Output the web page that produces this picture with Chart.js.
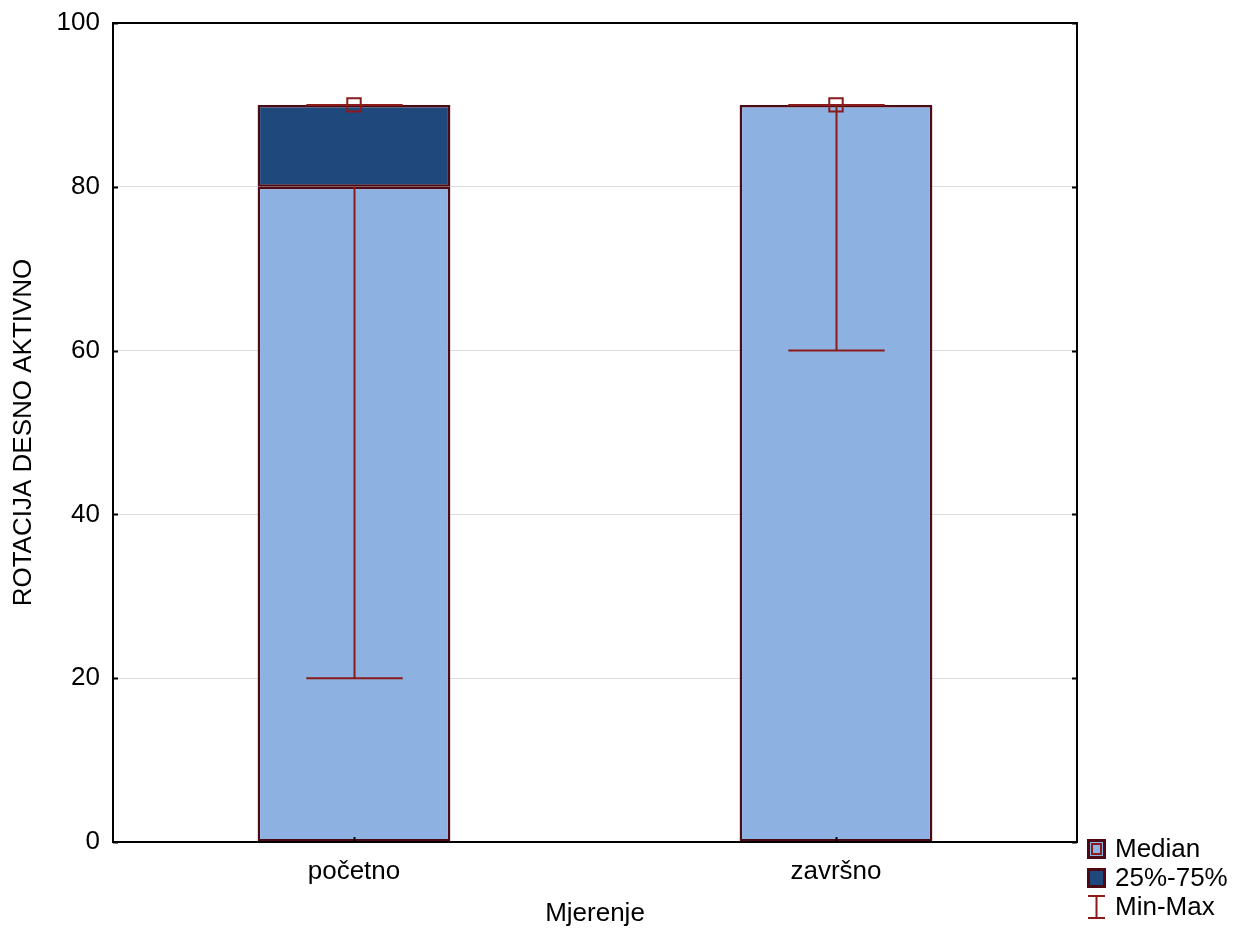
<!DOCTYPE html>
<html>
<head>
<meta charset="utf-8">
<script src="https://cdn.jsdelivr.net/npm/chart.js@4/dist/chart.umd.min.js"></script>
<style>
  html, body { margin: 0; padding: 0; background: #fff; }
  #wrap { width: 1234px; height: 930px; }
</style>
</head>
<body>
<div id="wrap"><canvas id="c" width="1234" height="930"></canvas></div>
<script>
// box plot data
var categories = ['početno', 'završno'];
var medians = [90, 90];
var q1 = [80, 90];
var q3 = [90, 90];
var mins = [20, 60];
var maxs = [90, 90];
var yTicks = [0, 20, 40, 60, 80, 100];
var legendLabels = ['Median', '25%-75%', 'Min-Max'];

var LIGHT = '#8db2e1';
var DARK = '#1f497d';
var EDGE = '#4e0a14';
var WHISK = '#8b1a1a';
var FONT = '"Liberation Sans", Arial, sans-serif';
var FS = 26;

var boxExtras = {
    id: 'boxExtras',
    beforeDatasetsDraw: function (chart) {
        var ctx = chart.ctx, a = chart.chartArea;
        ctx.save();
        ctx.strokeStyle = '#000';
        ctx.lineWidth = 2;
        var ys = chart.scales.y;
        // inner tick marks
        yTicks.forEach(function (v) {
            var py = Math.round(ys.getPixelForValue(v)) + 0.5;
            ctx.beginPath();
            ctx.moveTo(a.left, py); ctx.lineTo(a.left + 5, py);
            ctx.moveTo(a.right, py); ctx.lineTo(a.right - 5, py);
            ctx.stroke();
        });
        ctx.restore();
    },
    afterDatasetsDraw: function (chart) {
        var ctx = chart.ctx, a = chart.chartArea;
        var ys = chart.scales.y, xs = chart.scales.x;
        var barMeta = chart.getDatasetMeta(0);
        ctx.save();
        // whiskers
        ctx.strokeStyle = WHISK;
        ctx.lineWidth = 2;
        categories.forEach(function (c, i) {
            var px = Math.round(xs.getPixelForValue(i)) + 0.5;
            var half = barMeta.data[i].width / 4;
            var yMin = ys.getPixelForValue(mins[i]);
            var yMax = ys.getPixelForValue(maxs[i]);
            ctx.beginPath();
            ctx.moveTo(px, yMin); ctx.lineTo(px, ys.getPixelForValue(q1[i]));
            ctx.moveTo(px, ys.getPixelForValue(q3[i])); ctx.lineTo(px, yMax);
            ctx.moveTo(px - half, yMin); ctx.lineTo(px + half, yMin);
            ctx.moveTo(px - half, yMax); ctx.lineTo(px + half, yMax);
            ctx.stroke();
        });
        // x ticks (inside)
        ctx.strokeStyle = '#000';
        categories.forEach(function (c, i) {
            var px = Math.round(xs.getPixelForValue(i)) + 0.5;
            ctx.beginPath();
            ctx.moveTo(px, a.bottom); ctx.lineTo(px, a.bottom - 5);
            ctx.stroke();
        });
        // frame
        ctx.lineWidth = 2;
        ctx.strokeRect(a.left, a.top, a.right - a.left, a.bottom - a.top);

        // legend
        var lx = 1087, rows = [849, 878, 907];
        ctx.font = FS + 'px ' + FONT;
        ctx.fillStyle = '#000';
        ctx.textBaseline = 'middle';
        ctx.textAlign = 'left';
        legendLabels.forEach(function (t, k) {
            ctx.fillText(t, lx + 28, rows[k] + 1);
        });
        // median icon
        ctx.fillStyle = LIGHT;
        ctx.fillRect(lx, rows[0] - 10, 19, 20);
        ctx.strokeStyle = EDGE; ctx.lineWidth = 3;
        ctx.strokeRect(lx + 1.5, rows[0] - 8.5, 16, 17);
        ctx.strokeStyle = WHISK; ctx.lineWidth = 2;
        ctx.strokeRect(lx + 5, rows[0] - 5, 9, 10);
        // box icon
        ctx.fillStyle = DARK;
        ctx.fillRect(lx, rows[1] - 10, 19, 20);
        ctx.strokeStyle = EDGE; ctx.lineWidth = 3;
        ctx.strokeRect(lx + 1.5, rows[1] - 8.5, 16, 17);
        // min-max icon
        ctx.strokeStyle = WHISK; ctx.lineWidth = 2;
        ctx.beginPath();
        ctx.moveTo(lx + 9.5, rows[2] - 11); ctx.lineTo(lx + 9.5, rows[2] + 11);
        ctx.moveTo(lx + 1, rows[2] - 11); ctx.lineTo(lx + 18, rows[2] - 11);
        ctx.moveTo(lx + 1, rows[2] + 11); ctx.lineTo(lx + 18, rows[2] + 11);
        ctx.stroke();
        ctx.restore();
    }
};

new Chart(document.getElementById('c').getContext('2d'), {
    type: 'bar',
    data: {
        labels: categories,
        datasets: [
            {
                label: 'low',
                data: q1.map(function (v) { return [0, v]; }),
                backgroundColor: LIGHT,
                borderColor: EDGE,
                borderWidth: 2.5,
                borderSkipped: false,
                grouped: false,
                barPercentage: 0.4,
                categoryPercentage: 1,
                order: 3
            },
            {
                label: '25%-75%',
                data: q1.map(function (v, i) { return [v, q3[i]]; }),
                backgroundColor: DARK,
                borderColor: EDGE,
                borderWidth: 2.5,
                borderSkipped: false,
                grouped: false,
                barPercentage: 0.4,
                categoryPercentage: 1,
                order: 2
            },
            {
                type: 'line',
                label: 'Median',
                data: medians,
                showLine: false,
                pointStyle: 'rect',
                pointRadius: 9.5,
                pointBorderWidth: 2,
                pointBorderColor: WHISK,
                pointBackgroundColor: 'rgba(0,0,0,0)',
                order: 0
            }
        ]
    },
    options: {
        responsive: false,
        animation: false,
        layout: { padding: { top: 23, right: 157, left: 0, bottom: 0 } },
        plugins: { legend: { display: false }, tooltip: { enabled: false } },
        scales: {
            x: {
                grid: { display: false, drawTicks: false },
                border: { display: false },
                ticks: { color: '#000', font: { family: FONT, size: FS }, padding: 14 },
                title: { display: true, text: 'Mjerenje', color: '#000', font: { family: FONT, size: FS }, padding: { top: 0, bottom: 1 } },
                afterFit: function (s) { s.height = 88; s.paddingLeft = 0; s.paddingRight = 0; }
            },
            y: {
                min: 0, max: 100,
                grid: { color: '#dddddd', lineWidth: 1, drawTicks: false },
                border: { display: false },
                ticks: { stepSize: 20, color: '#000', font: { family: FONT, size: FS }, padding: 13 },
                title: { display: true, text: 'ROTACIJA DESNO AKTIVNO', color: '#000', font: { family: FONT, size: FS }, padding: { top: 8, bottom: 0 } },
                afterFit: function (s) { s.width = 113; s.paddingTop = 0; s.paddingBottom = 0; }
            }
        }
    },
    plugins: [boxExtras]
});
</script>
</body>
</html>
